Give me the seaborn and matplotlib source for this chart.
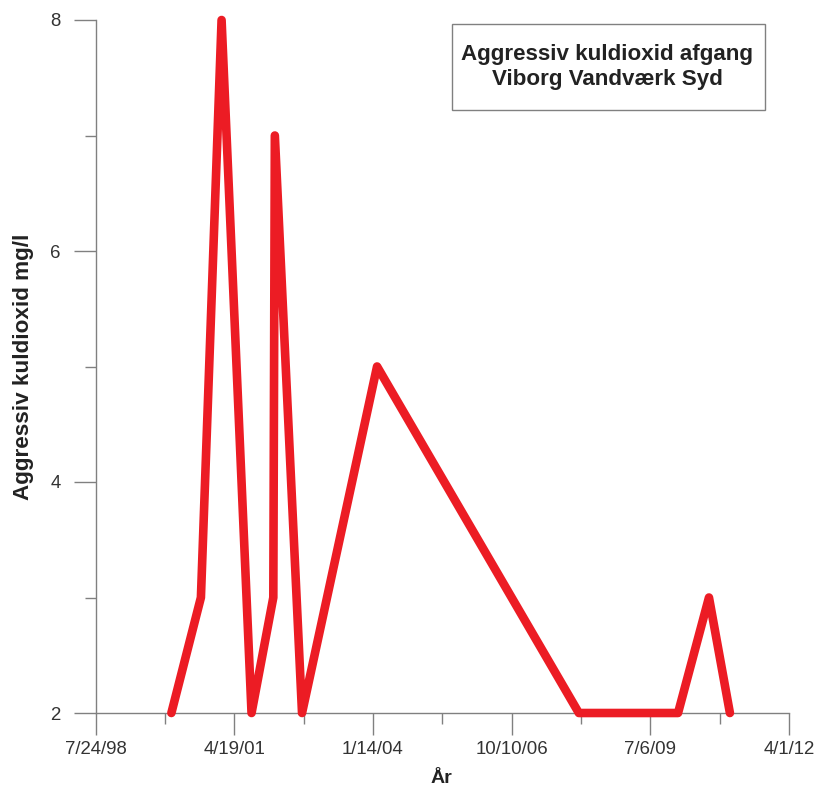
import matplotlib
matplotlib.use("Agg")
import matplotlib.pyplot as plt
import matplotlib.dates as mdates
from matplotlib.patches import Rectangle
from matplotlib.ticker import FixedLocator, NullFormatter
import pandas as pd
import seaborn as sns

# Sampling dates and measured aggressive CO2 (mg/l) at the outlet
dates = ["2000-01-22", "2000-08-22", "2001-01-18", "2001-08-22",
         "2002-01-26", "2002-02-06", "2002-08-21", "2004-02-13",
         "2008-02-07", "2010-01-22", "2010-09-02", "2011-01-31"]
co2 = [2, 3, 8, 2, 3, 7, 2, 5, 2, 2, 3, 2]

x_ticks = ["1998-07-24", "2001-04-19", "2004-01-14", "2006-10-10",
           "2009-07-06", "2012-04-01"]
x_tick_labels = ["7/24/98", "4/19/01", "1/14/04", "10/10/06", "7/6/09", "4/1/12"]
y_ticks = [2, 4, 6, 8]
y_minor = [3, 5, 7]

title_lines = ["Aggressiv kuldioxid afgang", "Viborg Vandværk Syd"]

df = pd.DataFrame({"dato": pd.to_datetime(dates), "co2": co2})

sns.set_style("ticks")
plt.rcParams["font.family"] = ["Liberation Sans", "DejaVu Sans"]

W, H = 818, 787
fig = plt.figure(figsize=(W / 100, H / 100), dpi=100)
ax = fig.add_axes([95.5 / W, 1 - 713 / H, (789 - 95.5) / W, (713 - 20) / H])

sns.lineplot(data=df, x="dato", y="co2", ax=ax, color="#ec1c24",
             linewidth=6.2, solid_capstyle="round", solid_joinstyle="round",
             clip_on=False, zorder=3)

xt = mdates.date2num(pd.to_datetime(x_ticks))
ax.set_xlim(xt[0], xt[-1])
ax.set_ylim(2, 8)
ax.xaxis.set_major_locator(FixedLocator(xt))
ax.set_xticklabels(x_tick_labels)
x_minor = (xt[:-1] + xt[1:]) / 2
ax.xaxis.set_minor_locator(FixedLocator(x_minor))
ax.xaxis.set_minor_formatter(NullFormatter())
ax.set_yticks(y_ticks)
ax.set_yticklabels([str(v) for v in y_ticks])
ax.yaxis.set_minor_locator(FixedLocator(y_minor))

for side in ["top", "right"]:
    ax.spines[side].set_visible(False)
for side in ["left", "bottom"]:
    ax.spines[side].set_color("#808080")
    ax.spines[side].set_linewidth(1.0)

ax.tick_params(axis="both", which="major", length=16, width=1.0,
               color="#808080", labelsize=13.4, labelcolor="#333333")
ax.tick_params(axis="x", which="major", pad=4)
ax.tick_params(axis="y", which="major", pad=9)
ax.tick_params(axis="both", which="minor", length=8, width=1.0, color="#808080")

ax.set_xlabel("")
fig.text(441 / W, 1 - 783 / H, "År", ha="center", va="baseline",
         fontsize=14, fontweight="bold", color="#222222")
ax.set_ylabel("Aggressiv kuldioxid mg/l", fontsize=16.2, fontweight="bold",
              color="#222222", labelpad=12)

# Title box in the upper right
fig.patches.append(Rectangle((452 / W, 1 - 110 / H), (765 - 452) / W, (110 - 24) / H,
                             transform=fig.transFigure, fill=False,
                             edgecolor="#808080", linewidth=1.0))
fig.text(607 / W, 1 - 60 / H, title_lines[0], ha="center", va="baseline",
         fontsize=16.1, fontweight="bold", color="#222222")
fig.text(607 / W, 1 - 85 / H, title_lines[1], ha="center", va="baseline",
         fontsize=16.1, fontweight="bold", color="#222222")

fig.savefig("out.png", dpi=100, facecolor="white")
